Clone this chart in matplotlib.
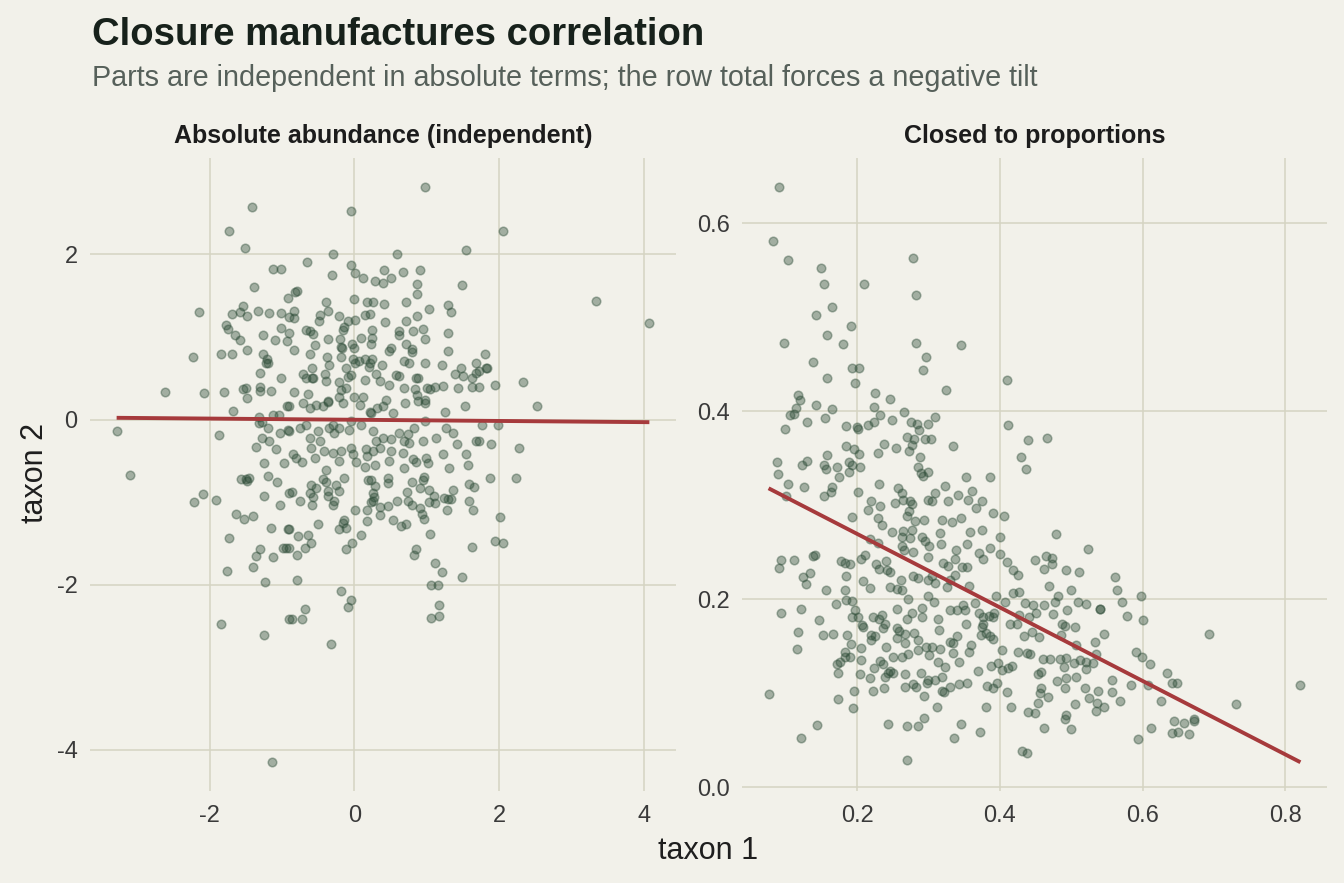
import numpy as np
import matplotlib
matplotlib.use("Agg")
import matplotlib.pyplot as plt

plt.rcParams['font.family'] = ['Liberation Sans', 'DejaVu Sans']

title = "Closure manufactures correlation"
subtitle = "Parts are independent in absolute terms; the row total forces a negative tilt"
panel_titles = ["Absolute abundance (independent)", "Closed to proportions"]
x_label = "taxon 1"
y_label = "taxon 2"

# (taxon 1, taxon 2) in absolute abundance
abs_points = [
    (-1.42, 2.58), (-1.74, 2.28), (-1.51, 2.08), (-1.13, 1.83), (-1.01, 1.82), (-1.39, 1.61), (-0.92, 1.47), (-2.15, 1.30),
    (-1.54, 1.37), (-1.69, 1.28), (-1.59, 1.30), (-1.49, 1.26), (-1.33, 1.31), (-1.18, 1.29), (-1.02, 1.29),
    (-1.78, 1.14), (-1.75, 1.10), (-1.65, 1.03), (-1.58, 0.97), (-1.26, 1.02), (-1.10, 0.97), (-1.01, 1.11), (-0.93, 0.95),
    (-1.49, 0.84), (-2.24, 0.76), (-1.85, 0.79), (-1.70, 0.79), (-1.27, 0.79), (-1.21, 0.74), (-1.22, 0.68), (-1.20, 0.68),
    (-1.31, 0.56), (-1.02, 0.50), (-2.62, 0.34), (-2.08, 0.32), (-1.80, 0.33), (-1.54, 0.37), (-1.50, 0.38), (-1.31, 0.39),
    (-1.30, 0.35), (-1.15, 0.35), (-1.49, 0.26), (-0.93, 0.17), (-1.68, 0.10), (-1.32, 0.03), (-1.13, 0.05), (-1.05, 0.06),
    (-3.29, -0.14), (-1.88, -0.19), (-1.32, -0.04), (-1.28, -0.03), (-1.19, -0.10), (-1.03, -0.16), (-0.92, -0.13),
    (-1.28, -0.22), (-1.18, -0.26), (-1.36, -0.33), (-1.09, -0.36), (-1.25, -0.53), (-0.98, -0.52), (-3.11, -0.67),
    (-1.57, -0.72), (-1.50, -0.72), (-1.46, -0.71), (-1.49, -0.74), (-1.20, -0.68), (-1.07, -0.76), (-0.91, -0.89),
    (-2.09, -0.90), (-2.22, -1.00), (-1.91, -0.97), (-1.25, -0.93), (-1.03, -1.04), (-1.64, -1.14), (-1.53, -1.20),
    (-1.41, -1.17), (-1.15, -1.31), (-0.92, -1.33), (-1.74, -1.43), (-1.30, -1.57), (-1.36, -1.65), (-1.12, -1.66),
    (-0.99, -1.56), (-0.95, -1.56), (-1.41, -1.78), (-1.77, -1.83), (-1.24, -1.97), (-1.85, -2.48), (-1.25, -2.61),
    (-0.91, -2.42), (-1.14, -4.15),
    (-0.86, -0.88), (-0.76, -0.99), (-0.60, -0.79), (-0.62, -0.89), (-0.53, -0.83), (-0.58, -0.94), (-0.59, -1.03),
    (-0.43, -0.72), (-0.40, -0.76), (-0.36, -0.87), (-0.36, -0.92), (-0.25, -0.79), (-0.21, -0.87), (-0.28, -0.99),
    (-0.29, -1.03), (-0.14, -0.71), (-0.90, -1.33), (-0.78, -1.41), (-0.64, -1.40), (-0.60, -1.49), (-0.68, -1.56),
    (-0.79, -1.64), (-0.90, -1.56), (-0.50, -1.27), (-0.14, -1.22), (-0.16, -1.25), (-0.22, -1.33), (-0.12, -1.31),
    (0.01, -1.09), (0.18, -1.09), (0.17, -1.23), (0.09, -1.40), (-0.03, -1.50), (-0.12, -1.57),
    (0.19, -0.73), (0.23, -0.73), (0.29, -0.81), (0.26, -0.89), (0.27, -0.94), (0.25, -0.98), (0.23, -1.00), (0.36, -1.06),
    (0.46, -1.05), (0.35, -1.16), (0.46, -0.71), (0.47, -0.77), (0.59, -0.98), (0.53, -1.22), (0.65, -1.29), (0.72, -1.26),
    (0.73, -0.88), (0.74, -0.98), (0.79, -1.04), (0.80, -0.75), (0.91, -0.83), (0.95, -0.73), (0.96, -0.69),
    (0.90, -1.07), (0.94, -1.14), (0.96, -1.20), (1.03, -0.85), (1.10, -0.93), (1.12, -1.01), (1.03, -1.00),
    (1.24, -0.95), (1.30, -0.96), (1.34, -0.96), (1.37, -0.85), (1.28, -1.10), (1.59, -0.78), (1.66, -0.82), (1.59, -0.99),
    (1.64, -1.09), (1.62, -1.54), (1.05, -1.39), (0.85, -1.57), (0.82, -1.64), (1.11, -1.74), (1.21, -1.85), (1.49, -1.91),
    (1.06, -2.00), (1.16, -2.00), (1.17, -2.25), (1.06, -2.40), (1.17, -2.38), (-0.79, -1.94), (-0.18, -2.08),
    (-0.05, -2.18), (-0.09, -2.27), (-0.68, -2.29), (-0.86, -2.42), (-0.73, -2.42), (-0.33, -2.72),
    (1.87, -0.71), (2.24, -0.71), (2.02, -1.18), (1.95, -1.47), (2.05, -1.49),
    (2.06, 2.28), (3.34, 1.44), (4.08, 1.17), (1.80, 0.79), (1.82, 0.63), (1.84, 0.62), (1.73, 0.59), (1.73, 0.39),
    (1.94, 0.42), (2.33, 0.46), (2.53, 0.16), (1.77, -0.06), (1.98, -0.06), (1.73, -0.26), (1.89, -0.30), (2.27, -0.35),
    (0.98, 2.82), (-0.05, 2.53), (1.55, 2.06), (-0.30, 2.00), (0.59, 2.00), (-0.65, 1.91), (-0.05, 1.87), (0.01, 1.77),
    (-0.31, 1.75), (0.12, 1.71), (0.28, 1.68), (0.39, 1.65), (0.50, 1.71), (0.41, 1.81), (0.67, 1.79), (0.90, 1.81),
    (0.87, 1.64), (0.86, 1.52), (1.49, 1.63), (-0.79, 1.56), (-0.82, 1.55),
    (-0.39, 1.42), (-0.36, 1.31), (-0.01, 1.46), (0.18, 1.43), (0.25, 1.43), (0.41, 1.40), (0.71, 1.42), (1.03, 1.34),
    (1.30, 1.39), (1.34, 1.30), (-0.84, 1.31), (-0.83, 1.23), (-0.90, 1.24),
    (-0.48, 1.27), (-0.49, 1.20), (-0.22, 1.25), (-0.09, 1.19), (-0.14, 1.12), (-0.16, 1.09), (0.01, 1.21), (0.15, 1.27),
    (0.21, 1.28), (0.42, 1.18), (0.72, 1.20), (0.86, 1.25), (-0.67, 1.08), (-0.62, 1.07), (-0.57, 1.04), (-0.90, 1.05),
    (-0.83, 0.84), (-0.36, 0.98), (-0.20, 0.98), (-0.18, 0.88), (-0.04, 0.91), (0.00, 0.87), (0.09, 0.99),
    (0.24, 1.08), (0.24, 0.99), (0.23, 0.91), (0.62, 1.07), (0.61, 1.03), (0.81, 1.07), (0.95, 1.10), (0.97, 0.98),
    (1.30, 1.05), (-0.55, 0.90), (-0.61, 0.80),
    (-0.38, 0.76), (-0.35, 0.66), (-0.18, 0.76), (-0.17, 0.87), (-0.02, 0.73), (0.01, 0.69), (0.06, 0.71), (0.15, 0.73),
    (0.21, 0.69), (0.20, 0.64), (0.24, 0.73), (0.38, 0.66), (0.48, 0.83), (0.51, 0.87), (0.69, 0.71), (0.75, 0.68),
    (0.80, 0.86), (0.80, 0.82), (0.71, 0.91), (0.98, 0.69), (1.29, 0.83), (1.21, 0.66),
    (-0.59, 0.63), (-0.71, 0.55), (-0.67, 0.50), (-0.59, 0.50), (-0.57, 0.50), (-0.41, 0.55), (-0.39, 0.47), (-0.22, 0.46),
    (-0.09, 0.52), (-0.05, 0.54), (-0.12, 0.63), (0.15, 0.48), (0.30, 0.55), (0.35, 0.47), (0.48, 0.42), (0.58, 0.54),
    (0.61, 0.53), (0.69, 0.38), (0.85, 0.50), (0.88, 0.50), (0.84, 0.37), (1.00, 0.38), (1.04, 0.37), (1.11, 0.39),
    (1.22, 0.41), (1.39, 0.55), (1.47, 0.63), (1.50, 0.53), (1.62, 0.50), (1.68, 0.56), (1.68, 0.68), (1.62, 0.40),
    (1.43, 0.38),
    (-0.83, 0.34), (-0.90, 0.16), (-0.71, 0.20), (-0.64, 0.31), (-0.62, 0.14), (-0.53, 0.18), (-0.44, 0.16), (-0.37, 0.21),
    (-0.36, 0.22), (-0.18, 0.36), (-0.21, 0.27), (-0.16, 0.20), (-0.12, 0.38), (0.00, 0.27), (0.12, 0.27), (0.07, 0.18),
    (0.22, 0.09), (0.31, 0.14), (0.40, 0.16), (0.44, 0.24), (0.54, 0.08), (0.70, 0.20), (0.86, 0.30), (0.88, 0.23),
    (0.98, 0.20), (0.97, 0.24), (1.25, 0.09), (1.53, 0.16),
    (-0.90, -0.14), (-0.76, -0.10), (-0.67, -0.06), (-0.62, -0.22), (-0.51, -0.14), (-0.48, -0.26), (-0.35, -0.10),
    (-0.30, -0.06), (-0.28, -0.16), (-0.21, -0.10), (-0.07, -0.12), (-0.05, -0.02), (0.09, -0.06), (0.23, 0.08),
    (0.25, -0.14), (0.30, -0.26), (0.39, -0.22), (0.51, -0.24), (0.62, -0.16), (0.74, -0.18), (0.69, -0.26), (0.76, -0.28),
    (0.95, -0.26), (0.83, -0.10), (0.97, -0.02), (1.13, -0.22), (1.27, -0.10), (1.36, -0.16), (1.42, -0.30), (1.68, -0.26),
    (-0.60, -0.34), (-0.42, -0.38), (-0.30, -0.40), (-0.18, -0.38), (-0.05, -0.34), (-0.02, -0.42), (0.16, -0.36),
    (0.17, -0.44), (0.25, -0.38), (0.35, -0.34), (0.51, -0.38), (0.67, -0.40), (0.81, -0.48), (0.85, -0.51), (0.99, -0.46),
    (1.22, -0.42), (1.55, -0.42), (-0.85, -0.42), (-0.81, -0.46), (-0.72, -0.51), (-0.55, -0.47), (-0.39, -0.61),
    (-0.21, -0.50), (0.02, -0.51), (0.14, -0.57), (0.28, -0.55), (0.48, -0.50), (0.69, -0.59), (1.02, -0.53),
    (1.31, -0.59), (1.57, -0.55),
]

# (taxon 1, taxon 2) closed to proportions
prop_points = [
    (0.0905, 0.639), (0.082, 0.581), (0.1025, 0.561), (0.149, 0.553), (0.154, 0.535), (0.209, 0.536), (0.278, 0.563),
    (0.283, 0.524), (0.165, 0.511), (0.142, 0.502), (0.192, 0.491), (0.158, 0.481), (0.180, 0.472), (0.097, 0.473),
    (0.282, 0.473), (0.2965, 0.458), (0.293, 0.444), (0.138, 0.452), (0.193, 0.446), (0.202, 0.446), (0.158, 0.435),
    (0.197, 0.430), (0.325, 0.423), (0.225, 0.420), (0.246, 0.413), (0.117, 0.417), (0.120, 0.412), (0.115, 0.404),
    (0.106, 0.396), (0.112, 0.397), (0.142, 0.4065), (0.165, 0.402), (0.155, 0.393), (0.130, 0.389), (0.099, 0.381),
    (0.224, 0.405), (0.232, 0.396), (0.223, 0.389), (0.215, 0.385), (0.265, 0.399), (0.249, 0.391), (0.185, 0.384),
    (0.1995, 0.383), (0.201, 0.381), (0.275, 0.389), (0.2835, 0.386), (0.299, 0.387), (0.309, 0.394), (0.287, 0.380),
    (0.2695, 0.373), (0.280, 0.371), (0.295, 0.370), (0.3035, 0.370), (0.2765, 0.364), (0.273, 0.358), (0.237, 0.365),
    (0.255, 0.361), (0.2295, 0.356), (0.184, 0.363), (0.196, 0.360), (0.202, 0.355), (0.158, 0.354), (0.130, 0.347),
    (0.1235, 0.3425), (0.088, 0.346), (0.089, 0.333), (0.153, 0.3425), (0.157, 0.339), (0.1715, 0.341), (0.188, 0.346),
    (0.1935, 0.343), (0.204, 0.341), (0.188, 0.335), (0.174, 0.330), (0.288, 0.351), (0.286, 0.341), (0.2895, 0.334),
    (0.2995, 0.335), (0.293, 0.331),
    (0.346, 0.471), (0.410, 0.4335), (0.412, 0.385), (0.440, 0.369), (0.466, 0.372), (0.429, 0.3515), (0.437, 0.339),
    (0.335, 0.363), (0.353, 0.330), (0.3855, 0.330),
    (0.103, 0.323), (0.125, 0.3195), (0.1002, 0.3095), (0.153, 0.3095), (0.164, 0.314), (0.165, 0.3195), (0.2014, 0.3145),
    (0.231, 0.323), (0.2201, 0.304), (0.2326, 0.2996), (0.2158, 0.2953), (0.2569, 0.3188), (0.2625, 0.3131),
    (0.2647, 0.306), (0.2765, 0.3017), (0.2741, 0.304), (0.2727, 0.2935), (0.2531, 0.3024), (0.2695, 0.2882),
    (0.281, 0.2828), (0.2941, 0.2839), (0.309, 0.3131), (0.3045, 0.305), (0.2997, 0.306), (0.3185, 0.2839),
    (0.3269, 0.305), (0.3236, 0.3202), (0.1926, 0.2875), (0.2298, 0.2860), (0.2354, 0.2793), (0.2485, 0.2715),
    (0.2639, 0.2722), (0.2765, 0.2733), (0.2741, 0.2651), (0.2625, 0.2662), (0.2905, 0.2662), (0.295, 0.2615),
    (0.3011, 0.2569), (0.3165, 0.2705), (0.3175, 0.2591), (0.2182, 0.2644), (0.2298, 0.2598), (0.2625, 0.2562),
    (0.2662, 0.2519), (0.2783, 0.2498), (0.2997, 0.2449), (0.2112, 0.2473), (0.2056, 0.2427), (0.2261, 0.2377),
    (0.2406, 0.2406), (0.231, 0.232), (0.2415, 0.2306), (0.2462, 0.2285), (0.2611, 0.2199), (0.2625, 0.21),
    (0.256, 0.2108), (0.2457, 0.2125), (0.2788, 0.225), (0.2858, 0.2221), (0.2997, 0.2207), (0.3045, 0.2242),
    (0.309, 0.2171), (0.3207, 0.2385), (0.3269, 0.2356), (0.3254, 0.2135), (0.0937, 0.2415), (0.1109, 0.2415),
    (0.0899, 0.2328), (0.124, 0.2235), (0.1283, 0.216), (0.1339, 0.2282), (0.1385, 0.2463), (0.1413, 0.247),
    (0.1566, 0.21), (0.1776, 0.2402), (0.1832, 0.2385), (0.1902, 0.2377), (0.1846, 0.225), (0.1832, 0.21),
    (0.2088, 0.2189), (0.2177, 0.2122), (0.1711, 0.1951), (0.1842, 0.1994), (0.1926, 0.1976), (0.0937, 0.1851),
    (0.1207, 0.1894), (0.1464, 0.1777), (0.1165, 0.1656), (0.1156, 0.1468), (0.1525, 0.1617), (0.166, 0.1628),
    (0.1864, 0.1617), (0.1916, 0.1521), (0.1972, 0.1887), (0.2010, 0.1815), (0.1926, 0.1815), (0.2074, 0.1724),
    (0.2088, 0.1709), (0.2224, 0.1815), (0.2354, 0.1833), (0.231, 0.1788), (0.2392, 0.1738), (0.2368, 0.1692),
    (0.2201, 0.1624), (0.2196, 0.1567), (0.2252, 0.1603), (0.256, 0.1894), (0.2717, 0.2007), (0.2765, 0.1858),
    (0.2695, 0.1791), (0.2913, 0.1901), (0.2905, 0.1809), (0.2997, 0.2036), (0.3081, 0.1969), (0.3129, 0.1788),
    (0.3151, 0.1674), (0.2555, 0.1692), (0.2587, 0.1666), (0.2564, 0.1585), (0.2671, 0.1631), (0.2801, 0.1638),
    (0.2858, 0.1567), (0.2671, 0.1538), (0.2401, 0.1496), (0.2508, 0.1389), (0.2634, 0.1382), (0.2717, 0.1418),
    (0.285, 0.146), (0.2965, 0.1496), (0.3045, 0.1496), (0.3161, 0.1474), (0.3007, 0.1404), (0.3137, 0.1333),
    (0.3231, 0.1283), (0.1832, 0.1443), (0.1906, 0.1389), (0.2052, 0.1478), (0.1832, 0.1389), (0.1716, 0.1311),
    (0.1762, 0.1336), (0.1739, 0.1219), (0.2056, 0.1354), (0.2238, 0.1266), (0.2326, 0.1347), (0.2359, 0.1311),
    (0.2392, 0.1176), (0.2438, 0.1219), (0.2462, 0.1240), (0.2508, 0.1212), (0.2671, 0.1205), (0.2895, 0.1212),
    (0.2975, 0.1106), (0.2997, 0.1141), (0.309, 0.1141), (0.3185, 0.1170), (0.2788, 0.1098), (0.2821, 0.1063),
    (0.2676, 0.1070), (0.2177, 0.1162), (0.2042, 0.1205), (0.2382, 0.1052), (0.2220, 0.1027), (0.1958, 0.1023),
    (0.1739, 0.0941), (0.194, 0.0842), (0.2941, 0.0973), (0.3185, 0.1027), (0.322, 0.1013), (0.3119, 0.085),
    (0.076, 0.0991), (0.1436, 0.0661), (0.1213, 0.0522), (0.2434, 0.0668), (0.2704, 0.0653), (0.2858, 0.0653),
    (0.2933, 0.0732), (0.2704, 0.0291),
    (0.3417, 0.3113), (0.3557, 0.3052), (0.3613, 0.3156), (0.3753, 0.3049), (0.3664, 0.2967), (0.3906, 0.2918),
    (0.406, 0.2882), (0.3455, 0.2864), (0.3324, 0.2818), (0.358, 0.2715), (0.3748, 0.2740), (0.4000, 0.2658),
    (0.3543, 0.2587), (0.386, 0.2548), (0.371, 0.2491), (0.3767, 0.2431), (0.3385, 0.2527), (0.3371, 0.2427),
    (0.4, 0.2481), (0.4102, 0.2396), (0.4187, 0.2306), (0.4248, 0.226), (0.3534, 0.2342), (0.3464, 0.2342),
    (0.3371, 0.226), (0.3301, 0.2207), (0.3566, 0.2143), (0.4485, 0.2415), (0.4615, 0.2324), (0.4653, 0.2463),
    (0.4727, 0.2438), (0.4737, 0.2377), (0.4933, 0.2313), (0.5105, 0.2288), (0.4793, 0.2694), (0.5231, 0.253),
    (0.5618, 0.2231), (0.5641, 0.2097), (0.4690, 0.2143), (0.5, 0.21), (0.4816, 0.2029), (0.4769, 0.1965),
    (0.5091, 0.1969), (0.5203, 0.1954), (0.5403, 0.1898), (0.5403, 0.1898), (0.4947, 0.1887), (0.4615, 0.1933),
    (0.4503, 0.1858), (0.4457, 0.1940), (0.4345, 0.1958), (0.4406, 0.1815), (0.4270, 0.1833), (0.4187, 0.2065),
    (0.4266, 0.2072), (0.3944, 0.2036), (0.407, 0.1973), (0.3916, 0.1851), (0.3906, 0.1815), (0.385, 0.1826),
    (0.3767, 0.1815), (0.371, 0.1851), (0.365, 0.1958), (0.3487, 0.194), (0.3511, 0.1887), (0.3394, 0.1887),
    (0.3301, 0.1887), (0.3520, 0.1738), (0.3767, 0.1738), (0.3748, 0.1709), (0.3734, 0.162), (0.386, 0.1603),
    (0.3906, 0.1578), (0.3804, 0.1638), (0.3394, 0.1603), (0.3347, 0.1532), (0.3301, 0.1549), (0.3590, 0.1517),
    (0.3566, 0.1436), (0.3427, 0.1336), (0.3347, 0.1425), (0.414, 0.1738), (0.4234, 0.1734), (0.4336, 0.1603),
    (0.4443, 0.1656), (0.4550, 0.1594), (0.4746, 0.1841), (0.4867, 0.1738), (0.491, 0.1716), (0.5049, 0.1699),
    (0.4863, 0.162), (0.5072, 0.1514), (0.5329, 0.1543), (0.546, 0.1631), (0.5902, 0.1436), (0.5996, 0.1382),
    (0.5711, 0.1965), (0.5786, 0.1823), (0.5972, 0.2036), (0.6004, 0.1774), (0.4028, 0.146), (0.4256, 0.1443),
    (0.4373, 0.1425), (0.442, 0.1418), (0.4606, 0.1365), (0.47, 0.1365), (0.4839, 0.1365), (0.4923, 0.1372),
    (0.49, 0.1283), (0.5035, 0.1326), (0.5119, 0.1354), (0.5212, 0.1336), (0.5203, 0.1258), (0.5305, 0.1326),
    (0.5352, 0.1418), (0.3874, 0.1290), (0.3967, 0.1318), (0.4023, 0.1247), (0.4115, 0.1266), (0.4163, 0.129),
    (0.3697, 0.124), (0.3431, 0.1095), (0.3543, 0.1112), (0.3301, 0.107), (0.3823, 0.1077), (0.3906, 0.1052),
    (0.3953, 0.1106), (0.4102, 0.1016), (0.4536, 0.1205), (0.4583, 0.1229), (0.4802, 0.1133), (0.4923, 0.1158),
    (0.5063, 0.1176), (0.491, 0.1055), (0.4578, 0.1052), (0.4569, 0.0999), (0.4681, 0.0956), (0.4536, 0.0899),
    (0.4499, 0.0786), (0.4387, 0.0803), (0.415, 0.085), (0.3804, 0.085), (0.5189, 0.1052), (0.5375, 0.1023),
    (0.525, 0.0946), (0.5361, 0.0899), (0.5455, 0.0856), (0.5352, 0.081), (0.5566, 0.1141), (0.5576, 0.1009),
    (0.5688, 0.092), (0.5842, 0.1091), (0.5053, 0.0882), (0.4923, 0.0768), (0.491, 0.0722), (0.462, 0.0626),
    (0.5, 0.0615), (0.3459, 0.0672), (0.3725, 0.059), (0.3361, 0.0519), (0.4303, 0.0384), (0.4378, 0.036),
    (0.5940, 0.0508),
    (0.6923, 0.1634), (0.6098, 0.1311), (0.634, 0.1212), (0.6415, 0.1106), (0.6480, 0.1112), (0.6074, 0.1087),
    (0.6252, 0.0914), (0.7305, 0.0889), (0.8210, 0.1091), (0.6434, 0.0700), (0.6578, 0.0687), (0.6713, 0.0727),
    (0.6717, 0.0706), (0.6415, 0.0579), (0.6494, 0.0586), (0.6643, 0.0562), (0.6112, 0.0629),
]

# least-squares fit lines as drawn in the reference (slope, intercept)
abs_fit = (-0.0072, -0.002)
prop_fit = (-0.3914, 0.3478)

abs_taxon1 = np.array([p[0] for p in abs_points])
abs_taxon2 = np.array([p[1] for p in abs_points])
prop_taxon1 = np.array([p[0] for p in prop_points])
prop_taxon2 = np.array([p[1] for p in prop_points])

abs_xticks = [-2, 0, 2, 4]
abs_yticks = [-4, -2, 0, 2]
prop_xticks = [0.2, 0.4, 0.6, 0.8]
prop_yticks = [0.0, 0.2, 0.4, 0.6]

BG = '#f2f1ea'
GRID = '#d5d4c2'
PT = '#2b4a35'
LINE = '#a63a3c'

W, H = 1344, 883
fig = plt.figure(figsize=(W / 100, H / 100), dpi=100, facecolor=BG)

def px_rect(l, r, t, b):
    return [l / W, 1 - b / H, (r - l) / W, (b - t) / H]

ax1 = fig.add_axes(px_rect(90, 676, 158, 791))
ax2 = fig.add_axes(px_rect(742, 1327, 158, 791))

panels = [
    (ax1, abs_taxon1, abs_taxon2, abs_fit, abs_xticks, abs_yticks, lambda v: f"{v:g}"),
    (ax2, prop_taxon1, prop_taxon2, prop_fit, prop_xticks, prop_yticks, lambda v: f"{v:.1f}"),
]

for i, (ax, x, y, fit, xt, yt, fmt) in enumerate(panels):
    ax.set_facecolor(BG)
    for s in ax.spines.values():
        s.set_visible(False)
    ax.scatter(x, y, s=38, facecolor=PT, edgecolor=PT, alpha=0.4, linewidths=1.1, zorder=3)
    slope, intercept = fit
    xs = np.array([x.min(), x.max()])
    ax.plot(xs, intercept + slope * xs, color=LINE, lw=2.8, zorder=4, solid_capstyle='butt')
    ax.set_xticks(xt)
    ax.set_yticks(yt)
    ax.set_xticklabels([fmt(v) for v in xt])
    ax.set_yticklabels([fmt(v) for v in yt])
    ax.grid(True, color=GRID, lw=1.1, zorder=0)
    ax.set_axisbelow(True)
    ax.tick_params(length=0, labelsize=17, labelcolor='#3a3a3a', pad=9)
    ax.tick_params(axis='x', pad=10)
    ax.margins(0.05)
    pos = ax.get_position()
    fig.text(pos.x0 + pos.width / 2, 1 - 136 / H, panel_titles[i], ha='center', va='center',
             fontsize=18, fontweight='bold', color='#1c1c1c')

fig.text(92 / W, 1 - 45 / H, title, ha='left', va='baseline', fontsize=27.5, fontweight='bold', color='#17211b')
fig.text(92 / W, 1 - 86 / H, subtitle, ha='left', va='baseline', fontsize=20.7, color='#56605a')
fig.text(708 / W, 1 - 851 / H, x_label, ha='center', va='center', fontsize=22, color='#1e1e1e')
fig.text(35 / W, 1 - 473 / H, y_label, ha='center', va='center', rotation=90, fontsize=22, color='#1e1e1e')

fig.savefig('out.png', dpi=100, facecolor=BG)
